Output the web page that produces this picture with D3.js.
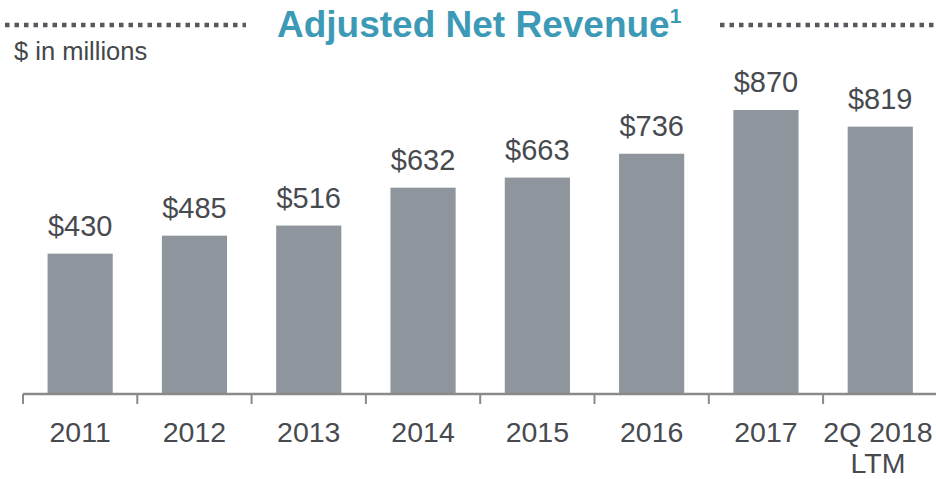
<!DOCTYPE html>
<html>
<head>
<meta charset="utf-8">
<script src="https://cdn.jsdelivr.net/npm/d3@7"></script>
<style>
  body { margin: 0; background: #fff; }
  text { font-family: "Liberation Sans", Arial, Helvetica, sans-serif; }
</style>
</head>
<body>
<script>
var categories = ["2011", "2012", "2013", "2014", "2015", "2016", "2017", "2Q 2018|LTM"];
var revenue = [430, 485, 516, 632, 663, 736, 870, 819];

var width = 936, height = 479;

var svg = d3.select("body")
            .append("svg")
            .attr("width", width)
            .attr("height", height);

// x bands: first tick at 23, each band ~114.3px
var x = d3.scaleBand()
          .domain(categories)
          .range([23, 937.4])
          .paddingInner(0.43)
          .paddingOuter(0.215);

// 0 sits on the axis line, 870 tops out near y=110
var y = d3.scaleLinear()
          .domain([0, 870])
          .range([394, 110]);

// dotted rules either side of the title
svg.append("line")
   .attr("x1", 5).attr("x2", 246)
   .attr("y1", 25).attr("y2", 25)
   .attr("stroke", "#55585c")
   .attr("stroke-width", 4.5)
   .attr("stroke-dasharray", "4.5,5");
svg.append("line")
   .attr("x1", 720).attr("x2", 936)
   .attr("y1", 25).attr("y2", 25)
   .attr("stroke", "#55585c")
   .attr("stroke-width", 4.5)
   .attr("stroke-dasharray", "4.5,5");

var title = svg.append("text")
   .attr("x", 277)
   .attr("y", 37)
   .attr("fill", "#3d9ab6")
   .attr("font-size", 37)
   .attr("font-weight", "bold");
title.append("tspan").text("Adjusted Net Revenue");
title.append("tspan")
     .attr("font-size", 21)
     .attr("dy", -14)
     .text("1");

svg.append("text")
   .attr("x", 14)
   .attr("y", 60)
   .attr("fill", "#44474b")
   .attr("font-size", 25.5)
   .text("$ in millions");

// bars
svg.selectAll("rect.bar")
   .data(revenue)
   .enter()
   .append("rect")
   .attr("class", "bar")
   .attr("x", function(d, i) { return x(categories[i]); })
   .attr("y", function(d) { return y(d); })
   .attr("width", x.bandwidth())
   .attr("height", function(d) { return y(0) - y(d); })
   .attr("fill", "#8e959c");

// value labels
svg.selectAll("text.val")
   .data(revenue)
   .enter()
   .append("text")
   .attr("class", "val")
   .attr("x", function(d, i) { return x(categories[i]) + x.bandwidth() / 2; })
   .attr("y", function(d) { return y(d) - 18; })
   .attr("text-anchor", "middle")
   .attr("fill", "#474a4f")
   .attr("font-size", 29)
   .text(function(d) { return "$" + d; });

// axis line + ticks at the band edges
svg.append("line")
   .attr("x1", 23).attr("x2", width)
   .attr("y1", 394).attr("y2", 394)
   .attr("stroke", "#8a8a8a")
   .attr("stroke-width", 2.5);

var step = x.step();
svg.selectAll("line.tick")
   .data(categories)
   .enter()
   .append("line")
   .attr("class", "tick")
   .attr("x1", function(d) { return x(d) - step * x.paddingInner() / 2; })
   .attr("x2", function(d) { return x(d) - step * x.paddingInner() / 2; })
   .attr("y1", 394).attr("y2", 404)
   .attr("stroke", "#8a8a8a")
   .attr("stroke-width", 2);

// category labels, split on "|"
var labels = svg.selectAll("text.cat")
   .data(categories)
   .enter()
   .append("text")
   .attr("class", "cat")
   .attr("text-anchor", "middle")
   .attr("fill", "#474a4f")
   .attr("font-size", 28.5)
   .attr("y", 442);

labels.selectAll("tspan")
   .data(function(d) { return d.split("|").map(function(s) { return {t: s, c: d}; }); })
   .enter()
   .append("tspan")
   .attr("x", function(d) { return Math.min(x(d.c) + x.bandwidth() / 2, 878); })
   .attr("dy", function(d, i) { return i === 0 ? 0 : 31; })
   .text(function(d) { return d.t; });
</script>
</body>
</html>
